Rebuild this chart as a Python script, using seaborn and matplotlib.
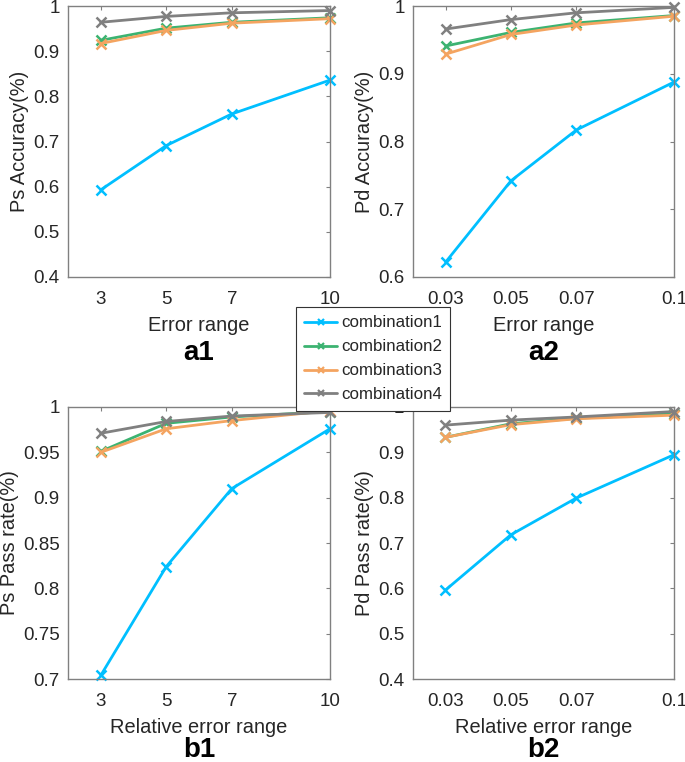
import pandas as pd
import matplotlib
matplotlib.use("Agg")
import matplotlib.pyplot as plt
import seaborn as sns

# 조합별 값
combos = ["combination1", "combination2", "combination3", "combination4"]
colors = ["#00BFFF", "#3CB371", "#F4A460", "#808080"]

x_ps = [3, 5, 7, 10]
x_pd = [0.03, 0.05, 0.07, 0.1]

a1_vals = [
    [0.593, 0.691, 0.761, 0.836],
    [0.924, 0.951, 0.964, 0.974],
    [0.917, 0.946, 0.962, 0.972],
    [0.964, 0.977, 0.985, 0.990],
]
a2_vals = [
    [0.622, 0.742, 0.817, 0.888],
    [0.941, 0.961, 0.975, 0.986],
    [0.929, 0.958, 0.972, 0.985],
    [0.966, 0.980, 0.990, 0.998],
]
b1_vals = [
    [0.704, 0.824, 0.910, 0.976],
    [0.951, 0.982, 0.989, 0.995],
    [0.950, 0.976, 0.985, 0.996],
    [0.971, 0.984, 0.990, 0.994],
]
b2_vals = [
    [0.596, 0.718, 0.799, 0.895],
    [0.933, 0.963, 0.975, 0.985],
    [0.933, 0.961, 0.974, 0.982],
    [0.960, 0.971, 0.978, 0.990],
]

panels = [
    # (값, x, xlim, ylim, yticks, ytick labels, xlabel, ylabel, 패널 이름)
    (a1_vals, x_ps, (2, 10), (0.4, 1.0), [0.4, 0.5, 0.6, 0.7, 0.8, 0.9, 1.0],
     ["0.4", "0.5", "0.6", "0.7", "0.8", "0.9", "1"], "Error range", "Ps Accuracy(%)", "a1"),
    (a2_vals, x_pd, (0.02, 0.1), (0.6, 1.0), [0.6, 0.7, 0.8, 0.9, 1.0],
     ["0.6", "0.7", "0.8", "0.9", "1"], "Error range", "Pd Accuracy(%)", "a2"),
    (b1_vals, x_ps, (2, 10), (0.7, 1.0), [0.7, 0.75, 0.8, 0.85, 0.9, 0.95, 1.0],
     ["0.7", "0.75", "0.8", "0.85", "0.9", "0.95", "1"], "Relative error range", "Ps Pass rate(%)", "b1"),
    (b2_vals, x_pd, (0.02, 0.1), (0.4, 1.0), [0.4, 0.5, 0.6, 0.7, 0.8, 0.9, 1.0],
     ["0.4", "0.5", "0.6", "0.7", "0.8", "0.9", "1"], "Relative error range", "Pd Pass rate(%)", "b2"),
]
xtick_labels = {id(x_ps): ["3", "5", "7", "10"], id(x_pd): ["0.03", "0.05", "0.07", "0.1"]}

axes_rects = [
    [0.0993, 0.6365, 0.3825, 0.3556],
    [0.6029, 0.6365, 0.3815, 0.3556],
    [0.0993, 0.1089, 0.3825, 0.3570],
    [0.6024, 0.1089, 0.3820, 0.3570],
]
# 패널 이름 위치 (figure 좌표)
tag_y = [1 - 353 / 762, 1 - 353 / 762, 1 - 750 / 762, 1 - 750 / 762]


def make_frame(vals, xs):
    rows = []
    for name, series in zip(combos, vals):
        for x, v in zip(xs, series):
            rows.append({"x": x, "value": v, "combination": name})
    return pd.DataFrame(rows)


def main():
    sns.set_style("white")
    plt.rcParams["font.family"] = ["Liberation Sans", "DejaVu Sans"]
    edge = "#808080"
    text_c = "#262626"

    fig = plt.figure(figsize=(6.85, 7.62), dpi=100)
    handles = None

    for rect, ty, (vals, xs, xlim, ylim, yt, ytl, xlab, ylab, tag) in zip(axes_rects, tag_y, panels):
        ax = fig.add_axes(rect)
        df = make_frame(vals, xs)
        sns.lineplot(data=df, x="x", y="value", hue="combination",
                     palette=colors, hue_order=combos, marker="x",
                     markersize=7, markeredgewidth=1.8, linewidth=2,
                     clip_on=False, legend=(tag == "a1"), ax=ax)
        for ln in ax.lines:
            ln.set_markeredgecolor(ln.get_color())
            ln.set_markerfacecolor(ln.get_color())
        ax.set_xlim(*xlim)
        ax.set_ylim(*ylim)
        ax.set_xticks(xs)
        ax.set_xticklabels(xtick_labels[id(xs)])
        ax.set_yticks(yt)
        ax.set_yticklabels(ytl)
        ax.tick_params(direction="in", length=3, width=0.8, colors=edge,
                       labelcolor=text_c, labelsize=13.5, top=True, right=True)
        ax.tick_params(axis="x", pad=10)
        ax.tick_params(axis="y", pad=6)
        for sp in ax.spines.values():
            sp.set_visible(True)
            sp.set_color(edge)
            sp.set_linewidth(1.0)
        ax.set_xlabel(xlab, fontsize=14.4, color=text_c, labelpad=6)
        ax.set_ylabel(ylab, fontsize=14.4, color=text_c, labelpad=3)
        fig.text(rect[0] + rect[2] / 2, ty, tag, ha="center", va="center",
                 fontsize=20, fontweight="bold", color="black")
        if tag == "a1":
            handles, labels = ax.get_legend_handles_labels()
            ax.get_legend().remove()

    for h, c in zip(handles, colors):
        h.set_marker("x")
        h.set_markersize(5)
        h.set_markeredgewidth(1.6)
        h.set_markeredgecolor(c)
        h.set_linestyle("-")
        h.set_linewidth(2)

    leg = fig.legend(handles, labels, loc="upper left",
                     bbox_to_anchor=(296 / 685, 1 - 307 / 762), fontsize=12.2,
                     frameon=True, fancybox=False, edgecolor="#333333",
                     framealpha=1, borderpad=0.5, labelspacing=0.53,
                     handlelength=1.9, handletextpad=0.25, borderaxespad=0)
    leg.get_frame().set_linewidth(0.8)

    fig.savefig("out.png", dpi=100)


if __name__ == "__main__":
    main()
